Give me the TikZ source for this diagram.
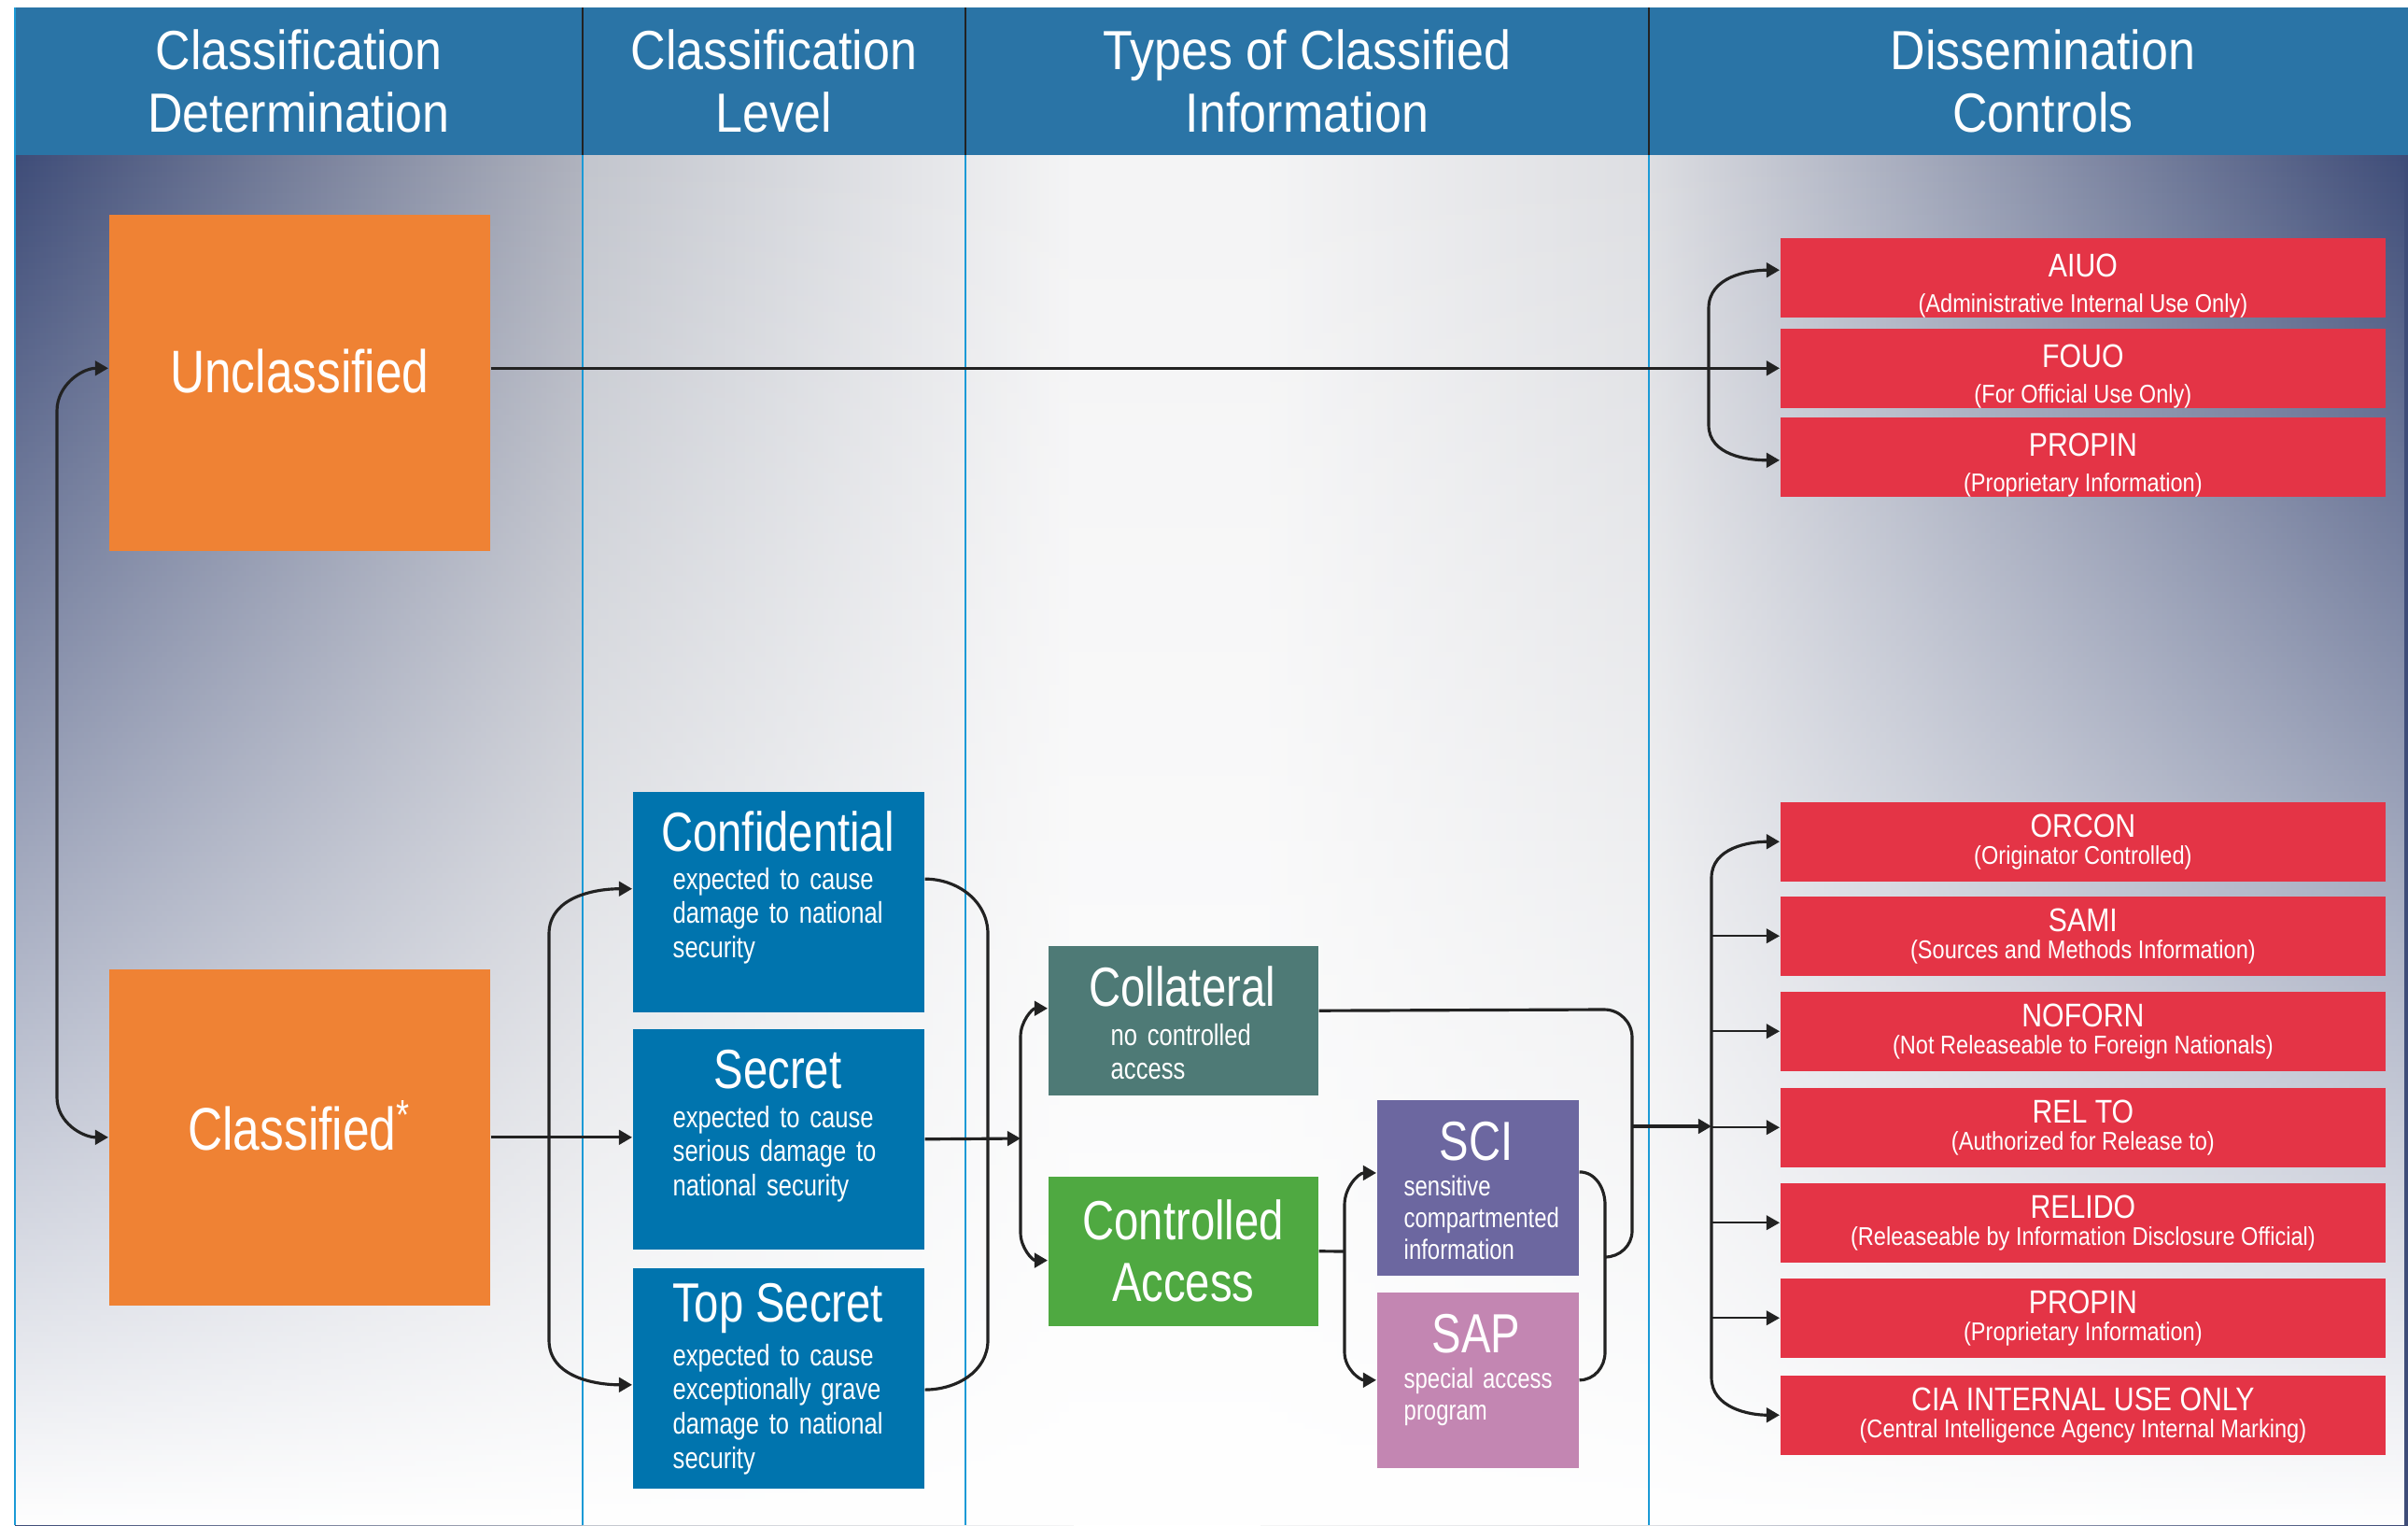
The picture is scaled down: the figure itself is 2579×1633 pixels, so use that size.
\documentclass[tikz,border=0pt]{standalone}
\usepackage{fontspec}
\setmainfont{Liberation Sans}
\newfontfamily\cndfont[FakeStretch=0.8]{Liberation Sans}
\newfontfamily\hdrfont[FakeStretch=0.88]{Liberation Sans}
\newfontfamily\dcfont[FakeStretch=0.86]{Liberation Sans}
\usetikzlibrary{arrows.meta,fadings}

\definecolor{hdrblue}{HTML}{2A74A6}
\definecolor{colline}{HTML}{1B9AD6}
\definecolor{bgnavy}{HTML}{3E4C78}
\definecolor{bgleft}{HTML}{B0B3BE}
\definecolor{bgmid}{HTML}{C2C5CD}
\definecolor{bgpale}{HTML}{F4F4F5}
\definecolor{bgright}{HTML}{DDDEE2}
\definecolor{unclorange}{HTML}{EF8234}
\definecolor{lvblue}{HTML}{0074AE}
\definecolor{collgreen}{HTML}{4E7A76}
\definecolor{ctrlgreen}{HTML}{4FA941}
\definecolor{scipurple}{HTML}{6C67A0}
\definecolor{sappink}{HTML}{C386B2}
\definecolor{dcred}{HTML}{E43446}
\definecolor{linkgrey}{HTML}{222222}

\newcommand\dctitle{\fontsize{10}{11}\selectfont}
\newcommand\dcraise{\rule{0pt}{12pt}}
\newcommand\dctight{\lineskiplimit=-20pt\relax}

\begin{document}
\begin{tikzpicture}[x=0.01cm, y=-0.01cm, >={Triangle[length=4pt,width=4.4pt]},
    hdrtext/.style ={text=white, align=center, font=\hdrfont\fontsize{16.8}{19.1}\selectfont},
    catbox/.style ={fill=unclorange, anchor=north west, inner sep=0pt, minimum width=4.08cm,
                    minimum height=3.6cm, text=white, text depth=0.25cm,
                    font=\cndfont\fontsize{18.3}{21}\selectfont},
    lvbox/.style ={fill=lvblue, anchor=north west, inner sep=0pt, minimum width=3.12cm, minimum height=2.36cm},
    typebox/.style ={anchor=north west, inner sep=0pt, minimum width=2.89cm, minimum height=1.6cm,
                    text=white, align=center, font=\cndfont\fontsize{16.8}{18.8}\selectfont},
    subbox/.style ={anchor=north west, inner sep=0pt, minimum width=2.16cm, minimum height=1.88cm},
    boxtitle/.style ={text=white, inner sep=0pt, font=\cndfont\fontsize{16.8}{18.8}\selectfont},
    boxbody/.style ={text=white, inner sep=0pt, anchor=base west, text width=2.9cm, align=left,
                    font=\cndfont\fontsize{9.1}{10.5}\selectfont},
    subbody/.style ={boxbody, font=\cndfont\fontsize{8.5}{9.7}\selectfont},
    dcbox/.style ={fill=dcred, text=white, anchor=north west, inner sep=0pt, minimum width=6.48cm,
                    minimum height=0.85cm, align=center},
    dctop/.style ={dcbox, font=\dcfont\fontsize{7.8}{10.6}\selectfont\dctight},
    dcbot/.style ={dcbox, font=\dcfont\fontsize{7.8}{8.2}\selectfont\dctight},
    link/.style ={draw=linkgrey, line width=0.9pt},
    branch/.style ={draw=linkgrey, line width=0.6pt}]
  \useasboundingbox (0,0) rectangle (2579,1633);

  % background and columns
  \fill[white] (0,0) rectangle (2579,1633);
  \shade[left color=bgnavy, right color=bgleft] (16,166) rectangle (624,1633);
  \shade[left color=bgmid, right color=bgpale] (624,166) rectangle (1150,1633);
  \fill[bgpale] (1150,166) rectangle (1350,1633);
  \shade[left color=bgpale, right color=bgright] (1350,166) rectangle (1766,1633);
  \shade[left color=bgright, right color=bgnavy] (1766,166) rectangle (2579,1633);
  \fill[white, path fading=north] (16,166) rectangle (2579,1633);
  \fill[hdrblue] (16,8) rectangle (2579,166);
  \draw[colline, line width=0.5pt] (16,8) -- (16,1633);
  \draw[colline, line width=0.5pt] (624,166) -- (624,1633);
  \draw[colline, line width=0.5pt] (1034,166) -- (1034,1633);
  \draw[colline, line width=0.5pt] (1766,166) -- (1766,1633);
  \draw[linkgrey, line width=0.6pt] (624,8) -- (624,166);
  \draw[linkgrey, line width=0.6pt] (1034,8) -- (1034,166);
  \draw[linkgrey, line width=0.6pt] (1766,8) -- (1766,166);

  % headers
  \node[hdrtext] (hdet) at (320,87) {Classification\\Determination};
  \node[hdrtext] (hlev) at (829,87) {Classification\\Level};
  \node[hdrtext] (htyp) at (1400,87) {Types of Classified\\Information};
  \node[hdrtext] (hdis) at (2188,87) {Dissemination\\Controls};

  % determination
  \node[catbox] (unc) at (116,229) {Unclassified};
  \node[catbox] (cls) at (116,1037) {Classified\textsuperscript{*}};

  % levels
  \node[lvbox] (conf) at (677,847) {};
  \node[boxtitle] (conft) at (833,890) {Confidential};
  \node[boxbody] (confb) at (720,952) {expected to cause\\damage to national\\security};
  \node[lvbox] (sec) at (677,1101) {};
  \node[boxtitle] (sect) at (833,1145) {Secret};
  \node[boxbody] (secb) at (720,1207) {expected to cause\\serious damage to\\national security};
  \node[lvbox] (tops) at (677,1357) {};
  \node[boxtitle] (topst) at (833,1401) {Top Secret};
  \node[boxbody] (topsb) at (720,1462) {expected to cause\\exceptionally grave\\damage to national\\security};

  % types
  \node[typebox, fill=collgreen] (colla) at (1122,1012) {};
  \node[boxtitle] (collat) at (1266,1056) {Collateral};
  \node[boxbody] (collab) at (1189,1119) {no controlled\\access};
  \node[typebox, fill=ctrlgreen] (ctrl) at (1122,1259) {Controlled\\Access};
  \node[subbox, fill=scipurple] (sci) at (1474,1177) {};
  \node[boxtitle] (scit) at (1581,1222) {SCI};
  \node[subbody] (scib) at (1503,1280) {sensitive\\compartmented\\information};
  \node[subbox, fill=sappink] (sap) at (1474,1383) {};
  \node[boxtitle] (sapt) at (1581,1428) {SAP};
  \node[subbody] (sapb) at (1503,1486) {special access\\program};

  % dissemination controls
  \node[dctop] (aiuo) at (1906,254) {{\dctitle\dcraise AIUO}\\(Administrative Internal Use Only)};
  \node[dctop] (fouo) at (1906,351) {{\dctitle\dcraise FOUO}\\(For Official Use Only)};
  \node[dctop] (propa) at (1906,446) {{\dctitle\dcraise PROPIN}\\(Proprietary Information)};
  \node[dcbot] (orcon) at (1906,858) {{\dctitle ORCON}\\(Originator Controlled)};
  \node[dcbot] (sami) at (1906,959) {{\dctitle SAMI}\\(Sources and Methods Information)};
  \node[dcbot] (noforn) at (1906,1061) {{\dctitle NOFORN}\\(Not Releaseable to Foreign Nationals)};
  \node[dcbot] (relto) at (1906,1164) {{\dctitle REL TO}\\(Authorized for Release to)};
  \node[dcbot] (relido) at (1906,1266) {{\dctitle RELIDO}\\(Releaseable by Information Disclosure Official)};
  \node[dcbot] (propb) at (1906,1368) {{\dctitle PROPIN}\\(Proprietary Information)};
  \node[dcbot] (cia) at (1906,1472) {{\dctitle CIA INTERNAL USE ONLY}\\(Central Intelligence Agency Internal Marking)};

  \coordinate (fkl) at (1093,1219);
  \coordinate (fks) at (1440,1340);
  \coordinate (mgt) at (1748,1206);
  \coordinate (fkd) at (1833,1206);

  % connectors
  \draw[link, <->] (unc.west |- fouo.west) to[out=180, in=90] (61,440) -- (61,1175) to[out=-90, in=180] (cls.west);
  \draw[link, ->] (unc.east |- fouo.west) -- (fouo.west);
  \draw[link, <->] ([yshift=2.3pt]aiuo.west) to[out=180, in=90] (1830,330) -- (1830,455) to[out=-90, in=180] ([yshift=-1pt]propa.west);
  \draw[link, ->] (cls.east) -- (cls.east -| sec.west);
  \draw[link, <->] ([yshift=4pt]conf.west) to[out=180, in=90] (588,1000) -- (588,1435) to[out=-90, in=180] ([yshift=-2pt]tops.west);
  \draw[link] ([yshift=7pt]conf.east) to[out=0, in=90] (1058,1000) -- (1058,1435) to[out=-90, in=0] ([yshift=-3.5pt]tops.east);
  \draw[link, ->] (sec.east) -- (fkl);
  \draw[link, <->] ([yshift=3.7pt]colla.west) to[out=180, in=90] (1093,1110) -- (1093,1320) to[out=-90, in=180] ([yshift=-2.8pt]ctrl.west);
  \draw[link] (ctrl.east) -- (fks);
  \draw[link, <->] ([yshift=4.5pt]sci.west) to[out=180, in=90] (1440,1290) -- (1440,1448) to[out=-90, in=180] (sap.west);
  \draw[link] ([yshift=4.8pt]sci.east) to[out=0, in=90] (1719,1290) -- (1719,1448) to[out=-90, in=0] (sap.east);
  \draw[link] ([yshift=3pt]colla.east) -- (1718,1081) to[out=0, in=90] (1748,1111) -- (1748,1318) to[out=-90, in=0] (1719,1346);
  \draw[link, ->] (mgt) -- (fkd);
  \draw[link, <->] (orcon.west) to[out=180, in=90] (1833,940) -- (1833,1475) to[out=-90, in=180] (cia.west);
  \draw[branch, ->] (sami.west -| fkd) -- (sami.west);
  \draw[branch, ->] (noforn.west -| fkd) -- (noforn.west);
  \draw[branch, ->] (relto.west -| fkd) -- (relto.west);
  \draw[branch, ->] (relido.west -| fkd) -- (relido.west);
  \draw[branch, ->] (propb.west -| fkd) -- (propb.west);
\end{tikzpicture}
\end{document}
